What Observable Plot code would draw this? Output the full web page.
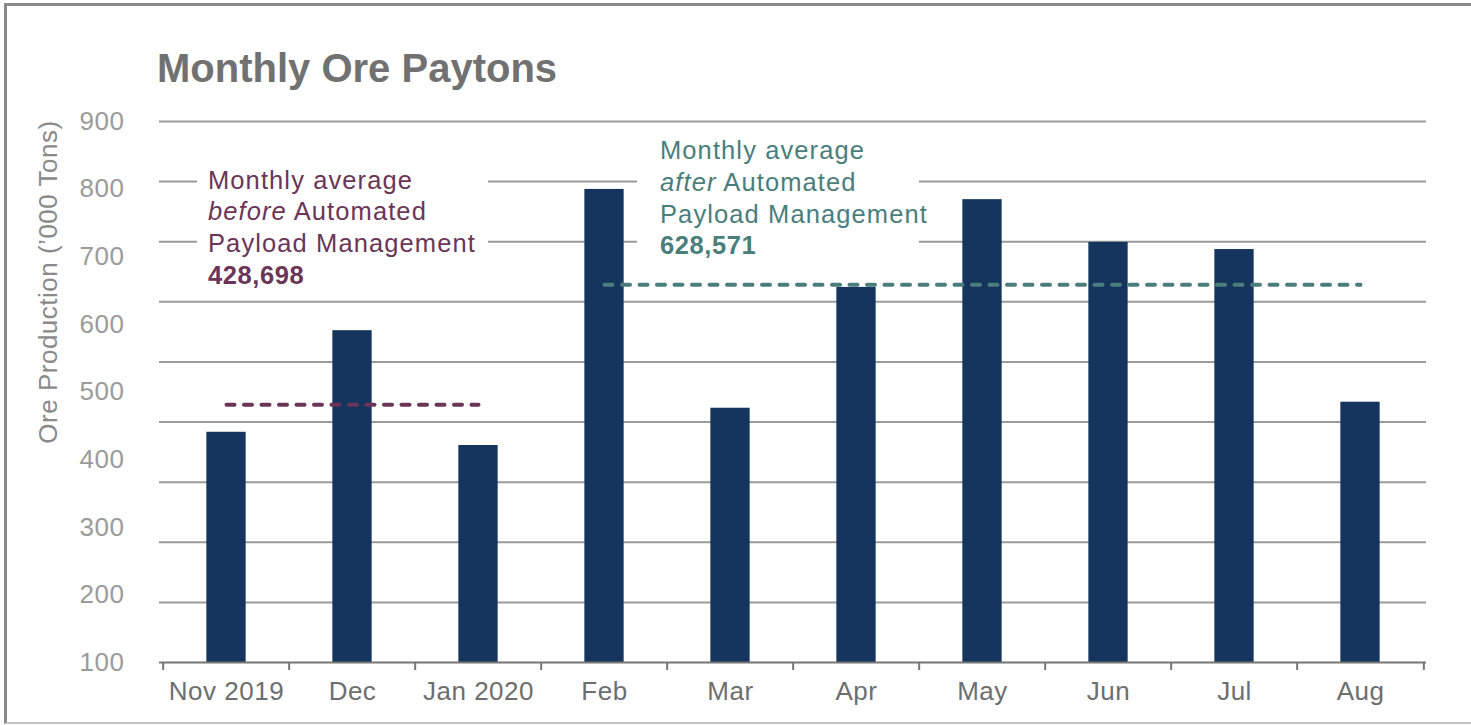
<!DOCTYPE html>
<html>
<head>
<meta charset="utf-8">
<script src="https://cdn.jsdelivr.net/npm/d3@7"></script>
<script src="https://cdn.jsdelivr.net/npm/@observablehq/plot@0.6"></script>
<style>
html,body{margin:0;padding:0;background:#fff;overflow:hidden;}
#wrap{position:relative;width:1471px;height:725px;font-family:"Liberation Sans",Arial,sans-serif;overflow:hidden;}
#frame{position:absolute;left:4px;top:3px;width:1500px;height:716px;border-left:3px solid #8a8a8a;border-top:3px solid #8a8a8a;border-bottom:2px solid #c4c4c4;}
#title{position:absolute;left:157px;top:48px;font-size:40px;line-height:1;font-weight:700;color:#717171;white-space:nowrap;}
#chart{position:absolute;left:0;top:100px;}
#chart svg text{letter-spacing:0.5px;}
.note{position:absolute;background:#fff;font-size:25.5px;line-height:31.7px;white-space:nowrap;letter-spacing:1.1px;box-sizing:border-box;}
.note b{font-weight:700;letter-spacing:0.6px;}
#before{left:197px;top:135px;width:291px;height:152px;padding:29.6px 0 0 11px;color:#6b3557;}
#after{left:637px;top:128px;width:282px;height:145px;padding:7.3px 0 0 23px;color:#4a7e7c;}
</style>
</head>
<body>
<div id="wrap">
  <div id="frame"></div>
  <div id="title"></div>
  <div id="chart"></div>
  <div id="before" class="note"></div>
  <div id="after" class="note"></div>
</div>
<script>
// ---- data ----
const months = ["Nov 2019", "Dec", "Jan 2020", "Feb", "Mar", "Apr", "May", "Jun", "Jul", "Aug"];
const production = [383, 552, 361, 787, 423, 624, 770, 699, 687, 433];
const gridValues = [100, 200, 300, 400, 500, 600, 700, 800, 900];
const yTickLabels = [100, 200, 300, 400, 500, 600, 700, 800, 900];
const yDomain = [0, 900];
const beforeAvg = 428.698;
const afterAvg = 628.571;
const beforeSpan = ["Nov 2019", "Jan 2020"];
const afterSpan = ["Feb", "Aug"];
const titleText = "Monthly Ore Paytons";
const yLabel = "Ore Production (\u2019000 Tons)";

// ---- layout ----
const W = 1471, H = 625, mL = 159, mR = 45, mT = 21, mB = 63;
const bw = (W - mL - mR) / months.length;
const barWidth = 40;
const inset = (bw - barWidth) / 2;

const bars = months.map((m, i) => ({month: m, value: production[i]}));
const beforeData = beforeSpan.map(m => ({month: m, v: beforeAvg}));
const afterData = afterSpan.map(m => ({month: m, v: afterAvg}));
const labelScale = (yDomain[1] - yDomain[0]) / (yTickLabels[yTickLabels.length - 1] - yTickLabels[0]);

const plot = Plot.plot({
  width: W, height: H,
  marginLeft: mL, marginRight: mR, marginTop: mT, marginBottom: mB,
  style: "font-family: 'Liberation Sans', Arial, sans-serif; font-size: 26px; color: #6e6e6e; background: transparent;",
  x: {type: "band", domain: months, padding: 0, tickSize: 0, tickPadding: 19, label: null},
  y: {domain: yDomain, axis: null},
  marks: [
    Plot.ruleY(gridValues, {stroke: "#9b9b9b", strokeWidth: 2}),
    Plot.barY(bars, {x: "month", y: "value", fill: "#15355f", insetLeft: inset, insetRight: inset}),
    Plot.ruleY([yDomain[0]], {stroke: "#767676", strokeWidth: 2}),
    Plot.ruleX(months, {x: d => d, y1: yDomain[0], y2: yDomain[0], insetBottom: -8, dx: -bw / 2, stroke: "#767676", strokeWidth: 2}),
    Plot.ruleX([months[months.length - 1]], {x: d => d, y1: yDomain[0], y2: yDomain[0], insetBottom: -8, dx: bw / 2, stroke: "#767676", strokeWidth: 2}),
    Plot.lineY(beforeData, {x: "month", y: "v", stroke: "#6b3557", strokeWidth: 4, strokeDasharray: "8,9.5"}),
    Plot.lineY(afterData, {x: "month", y: "v", stroke: "#4a7e7c", strokeWidth: 4, strokeDasharray: "8,9.5"}),
    Plot.text(yTickLabels, {y: d => (d - yTickLabels[0]) * labelScale, text: d => String(d), frameAnchor: "left", textAnchor: "end", dx: -35, fill: "#9b9b9b", fontSize: 26}),
    Plot.text([yLabel], {frameAnchor: "left", textAnchor: "middle", rotate: -90, dx: -111, dy: -110, fill: "#8a8a8a", fontSize: 26})
  ]
});
document.getElementById("chart").appendChild(plot);

document.getElementById("title").textContent = titleText;
const fmt = v => d3.format(",")(Math.round(v * 1000));
document.getElementById("before").innerHTML =
  "Monthly average<br><i>before</i> Automated<br>Payload Management<br><b>" + fmt(beforeAvg) + "</b>";
document.getElementById("after").innerHTML =
  "Monthly average<br><i>after</i> Automated<br>Payload Management<br><b>" + fmt(afterAvg) + "</b>";
</script>
</body>
</html>
